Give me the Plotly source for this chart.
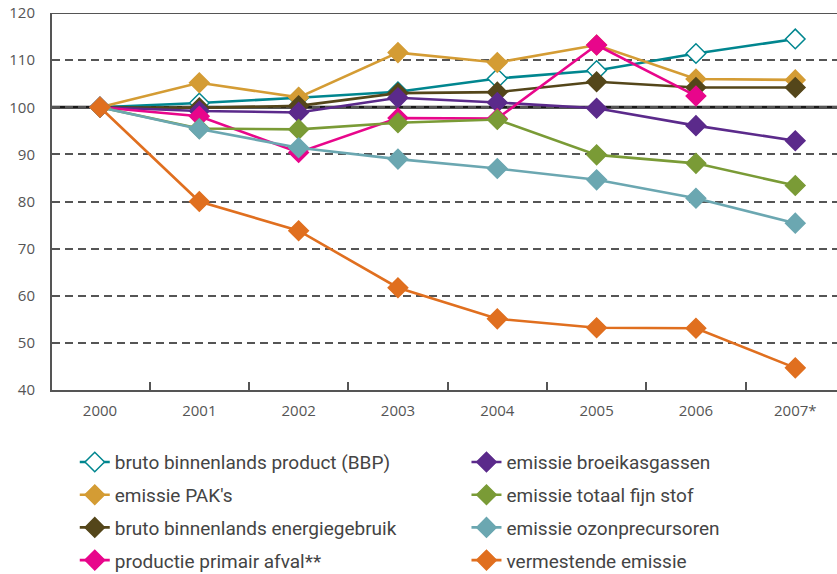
import plotly.graph_objects as go

years = ["2000", "2001", "2002", "2003", "2004", "2005", "2006", "2007*"]

bbp = [100, 100.9, 102.0, 103.3, 106.1, 107.8, 111.4, 114.5]
pak = [100, 105.2, 102.1, 111.6, 109.5, 113.2, 106.0, 105.8]
energie = [100, 99.9, 100.3, 103.0, 103.2, 105.4, 104.2, 104.2]
broeikas = [100, 99.2, 98.9, 102.0, 101.0, 99.8, 96.1, 92.9]
afval = [100, 98.1, 90.4, 97.7, 97.6, 113.2, 102.4, None]
fijnstof = [100, 95.5, 95.3, 96.7, 97.4, 89.9, 88.1, 83.4]
ozon = [100, 95.4, 91.4, 89.0, 87.0, 84.6, 80.7, 75.4]
vermestend = [100, 80.0, 73.8, 61.7, 55.1, 53.2, 53.1, 44.7]

y_ticks = [40, 50, 60, 70, 80, 90, 100, 110, 120]

series = [
    # name, values, color, open marker, legend, rank
    ("bruto binnenlands product (BBP)", bbp, "#00868f", True, "legend", 1),
    ("emissie PAK's", pak, "#d49c34", False, "legend", 2),
    ("bruto binnenlands energiegebruik", energie, "#54461a", False, "legend", 3),
    ("emissie broeikasgassen", broeikas, "#5b2a8b", False, "legend2", 5),
    ("productie primair afval**", afval, "#e8068b", False, "legend", 4),
    ("emissie totaal fijn stof", fijnstof, "#7a9b36", False, "legend2", 6),
    ("emissie ozonprecursoren", ozon, "#6ba7b1", False, "legend2", 7),
    ("vermestende emissie", vermestend, "#e06f1f", False, "legend2", 8),
]

fig = go.Figure()
for name, vals, col, is_open, leg, rank in series:
    fig.add_trace(go.Scatter(
        x=years, y=vals, name=name, mode="lines+markers",
        line=dict(color=col, width=2.6),
        marker=dict(symbol="diamond", size=15,
                    color="white" if is_open else col,
                    line=dict(color=col, width=1.5)),
        legend=leg, legendrank=rank, legendgroup=name,
        connectgaps=False,
    ))

# reference line at 100 and top border at 120
fig.add_shape(type="line", xref="paper", yref="y", x0=0, x1=1, y0=100, y1=100,
              line=dict(color="#1a1a1a", width=3), layer="between")
fig.add_shape(type="line", xref="paper", yref="y", x0=0, x1=1, y0=120, y1=120,
              line=dict(color="#555555", width=2), layer="between")

font_legend = dict(family="Roboto, Open Sans, sans-serif", size=19, color="#444444")

fig.update_layout(
    width=837, height=574,
    margin=dict(l=52, r=0, t=13, b=184, autoexpand=False),
    plot_bgcolor="white", paper_bgcolor="white",
    font=dict(family="Open Sans, sans-serif", size=14, color="#555555"),
    xaxis=dict(
        type="category", range=[-0.483, 7.42], automargin=False,
        tickson="boundaries", ticks="inside", ticklen=8, tickwidth=1.5, tickcolor="#555555",
        showline=True, linecolor="#555555", linewidth=2,
        showgrid=False, tickfont=dict(size=15, color="#555555"),
        ticklabelstandoff=6,
    ),
    yaxis=dict(
        range=[40, 120], tickvals=y_ticks, automargin=False,
        showline=True, linecolor="#555555", linewidth=2,
        showgrid=True, gridcolor="#555555", gridwidth=1.5, griddash="8px,5px",
        zeroline=False, ticks="", tickfont=dict(size=15, color="#555555"),
        ticklabelstandoff=12,
    ),
    legend=dict(x=0.029, y=-0.141, xanchor="left", yanchor="top",
                orientation="v", font=font_legend, tracegroupgap=5,
                bgcolor="rgba(0,0,0,0)"),
    legend2=dict(x=0.528, y=-0.141, xanchor="left", yanchor="top",
                 orientation="v", font=font_legend, tracegroupgap=5,
                 bgcolor="rgba(0,0,0,0)"),
    showlegend=True,
)

fig.write_html("out.html", config={"displayModeBar": False},
               post_script="document.body.style.margin='0';")
